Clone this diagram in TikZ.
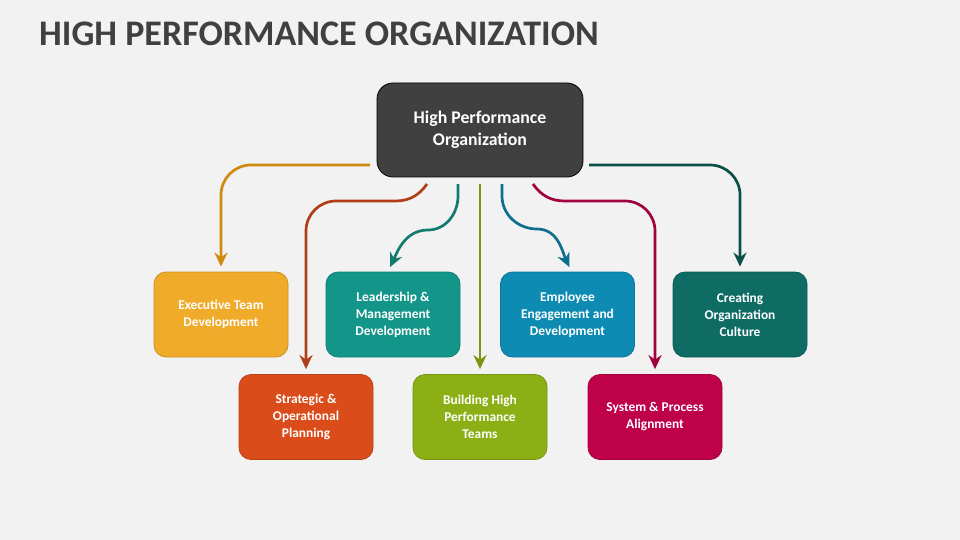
\documentclass[tikz,border=0pt]{standalone}
\usepackage{fontspec}
\setmainfont{Carlito}
\usetikzlibrary{arrows.meta}
\definecolor{bgcol}{HTML}{F2F2F2}
\definecolor{titlecol}{HTML}{404040}
\definecolor{hpocol}{HTML}{404040}
\definecolor{execcol}{HTML}{F0AB2B}
\definecolor{leadcol}{HTML}{13958A}
\definecolor{empcol}{HTML}{0E8BB3}
\definecolor{cultcol}{HTML}{0E6C64}
\definecolor{stratcol}{HTML}{DA4C1A}
\definecolor{buildcol}{HTML}{8BAF15}
\definecolor{syscol}{HTML}{BE0148}
\definecolor{execline}{HTML}{D08A0E}
\definecolor{stratline}{HTML}{B03E16}
\definecolor{leadline}{HTML}{127A70}
\definecolor{buildline}{HTML}{7A9410}
\definecolor{empline}{HTML}{0E6E8E}
\definecolor{sysline}{HTML}{A0003E}
\definecolor{cultline}{HTML}{0A5048}
\tikzset{%
  mybox/.style={rectangle, rounded corners=12pt, minimum width=134pt, minimum height=85pt,
    align=center, text=white, line width=0.8pt, font=\bfseries\fontsize{13.4}{17}\selectfont},
  myedge/.style={-{Stealth[length=14pt,width=13pt]}, line width=2.7pt, shorten >=5pt}
}

\begin{document}
\begin{tikzpicture}[x=1pt,y=-1pt]
\fill [bgcol] (0,0) rectangle (960,540);
\useasboundingbox (0,0) rectangle (960,540);

\node [anchor=base west, inner sep=0pt, text=titlecol, font=\bfseries\fontsize{36}{40}\selectfont] (title) at (39,46) {HIGH PERFORMANCE ORGANIZATION};

\node [mybox, fill=hpocol, draw=black, rounded corners=16pt, minimum width=206pt, minimum height=94pt,
  font=\bfseries\fontsize{17.8}{21.5}\selectfont] (hpo) at (480,130) {High Performance\\Organization};

\node [mybox, fill=execcol, draw=execcol!85!black] (exec) at (221,314.5) {Executive Team\\Development};
\node [mybox, fill=leadcol, draw=leadcol!85!black] (lead) at (393,314.5) {Leadership \&\\Management\\Development};
\node [mybox, fill=empcol, draw=empcol!85!black] (emp) at (567.5,314.5) {Employee\\Engagement and\\Development};
\node [mybox, fill=cultcol, draw=cultcol!85!black] (cult) at (740,314.5) {Creating\\Organization\\Culture};
\node [mybox, fill=stratcol, draw=stratcol!85!black] (strat) at (306,417) {Strategic \&\\Operational\\Planning};
\node [mybox, fill=buildcol, draw=buildcol!85!black] (build) at (480,417) {Building High\\Performance\\Teams};
\node [mybox, fill=syscol, draw=syscol!85!black] (sys) at (655,417) {System \& Process\\Alignment};

% start points
\coordinate (s1) at (370,165);
\coordinate (s2) at (427,184);
\coordinate (s3) at (458,184);
\coordinate (s4) at (480,184);
\coordinate (s5) at (502,184);
\coordinate (s6) at (533,184);
\coordinate (s7) at (589,165);

% connectors
\draw [myedge, draw=execline, rounded corners=30pt] (s1) -| (exec.north);
\draw [myedge, draw=stratline] (s2) to[out=-125,in=0] (395,201) [rounded corners=30pt] -| (strat.north);
\draw [myedge, draw=leadline] (s3) -- (458,196) to[out=-90,in=0] (428,230) to[out=180,in=65] ([xshift=-5pt]lead.north);
\draw [myedge, draw=buildline] (s4) -- (build.north);
\draw [myedge, draw=empline] (s5) -- (502,196) to[out=-90,in=180] (537,229) to[out=0,in=115] ([xshift=4pt]emp.north);
\draw [myedge, draw=sysline] (s6) to[out=-55,in=180] (565,201) [rounded corners=30pt] -| (sys.north);
\draw [myedge, draw=cultline, rounded corners=30pt] (s7) -| (cult.north);
\end{tikzpicture}
\end{document}
